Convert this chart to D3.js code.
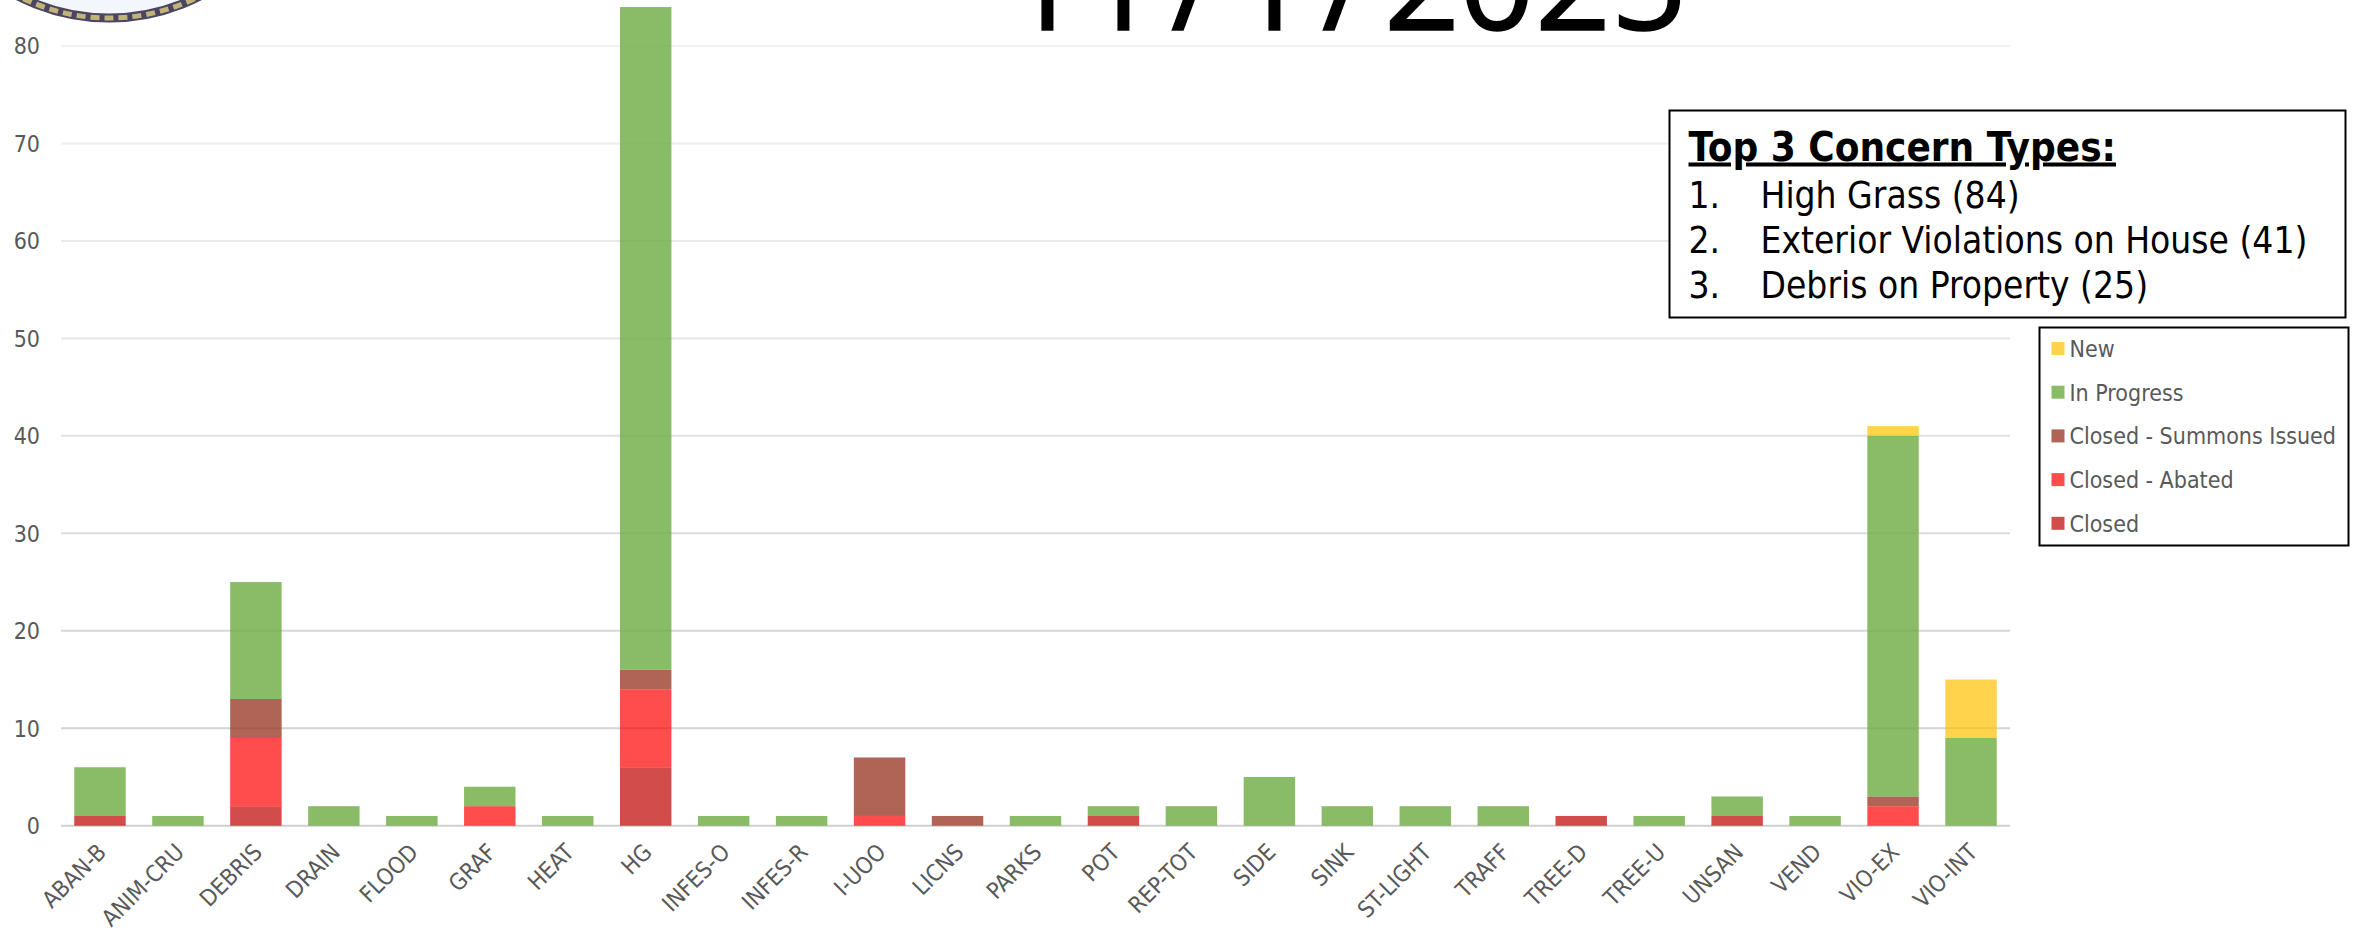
<!DOCTYPE html>
<html>
<head>
<meta charset="utf-8">
<script src="https://cdn.jsdelivr.net/npm/d3@7"></script>
<style>
  html, body { margin: 0; padding: 0; background: #fff; }
  svg { display: block; }
  text { font-family: "DejaVu Sans Condensed", "DejaVu Sans", sans-serif; }
</style>
</head>
<body>
<svg id="chart" width="2359" height="933"></svg>
<script>
const categories = ['ABAN-B', 'ANIM-CRU', 'DEBRIS', 'DRAIN', 'FLOOD', 'GRAF', 'HEAT', 'HG', 'INFES-O', 'INFES-R', 'I-UOO', 'LICNS', 'PARKS', 'POT', 'REP-TOT', 'SIDE', 'SINK', 'ST-LIGHT', 'TRAFF', 'TREE-D', 'TREE-U', 'UNSAN', 'VEND', 'VIO-EX', 'VIO-INT'];
const closed = [1, 0, 2, 0, 0, 0, 0, 6, 0, 0, 0, 0, 0, 1, 0, 0, 0, 0, 0, 1, 0, 1, 0, 0, 0];
const abated = [0, 0, 7, 0, 0, 2, 0, 8, 0, 0, 1, 0, 0, 0, 0, 0, 0, 0, 0, 0, 0, 0, 0, 2, 0];
const summons = [0, 0, 4, 0, 0, 0, 0, 2, 0, 0, 6, 1, 0, 0, 0, 0, 0, 0, 0, 0, 0, 0, 0, 1, 0];
const inProgress = [5, 1, 12, 2, 1, 2, 1, 68, 1, 1, 0, 0, 1, 1, 2, 5, 2, 2, 2, 0, 1, 2, 1, 37, 9];
const newCases = [0, 0, 0, 0, 0, 0, 0, 0, 0, 0, 0, 0, 0, 0, 0, 0, 0, 0, 0, 0, 0, 0, 0, 1, 6];
const yTicks = [0, 10, 20, 30, 40, 50, 60, 70, 80];
const seriesNames = ['Closed', 'Closed - Abated', 'Closed - Summons Issued', 'In Progress', 'New'];
const seriesColors = ['#c00000', '#ff0000', '#9b3d2a', '#70ad47', '#ffc000'];
const seriesAlpha = [0.7, 0.7, 0.8, 0.82, 0.7];
const legendOrder = ['New', 'In Progress', 'Closed - Summons Issued', 'Closed - Abated', 'Closed'];
const topTitle = 'Top 3 Concern Types:';
const topNums = ['1.', '2.', '3.'];
const topItems = ['High Grass (84)', 'Exterior Violations on House (41)', 'Debris on Property (25)'];
const dateTitle = '11/1/2025';

const svg = d3.select('#chart');
const left = 61, right = 2010, y0 = 825.7, y80 = 46;

const x = d3.scaleBand().domain(categories).range([left, right]).paddingInner(0.34).paddingOuter(0.17);
const y = d3.scaleLinear().domain([0, 80]).range([y0, y80]);
const color = d3.scaleOrdinal().domain(seriesNames).range(seriesColors);
const alpha = d3.scaleOrdinal().domain(seriesNames).range(seriesAlpha);

const rows = categories.map((c, i) => ({
  cat: c,
  'Closed': closed[i],
  'Closed - Abated': abated[i],
  'Closed - Summons Issued': summons[i],
  'In Progress': inProgress[i],
  'New': newCases[i]
}));
const stacked = d3.stack().keys(seriesNames)(rows);

// grid, gets fainter going up
const yAxis = d3.axisLeft(y).tickValues(yTicks).tickSize(0);
const gy = svg.append('g').attr('transform', `translate(${left},0)`).call(yAxis);
gy.select('.domain').remove();
gy.selectAll('text').attr('fill', '#595959').style('font-size', '23px').attr('dy', '0.34em').attr('x', -21);
const shade = d3.scaleLinear().domain([0, 80]).range(['#cfcfcf', '#f2f2f2']);
svg.append('g')
  .selectAll('line')
  .data(yTicks)
  .enter()
  .append('line')
  .attr('x1', left)
  .attr('x2', right)
  .attr('y1', d => y(d))
  .attr('y2', d => y(d))
  .attr('stroke', d => shade(d))
  .attr('stroke-width', 2);

svg.append('g')
  .selectAll('g')
  .data(stacked)
  .enter()
  .append('g')
  .attr('fill', d => color(d.key))
  .attr('fill-opacity', d => alpha(d.key))
  .selectAll('rect')
  .data(d => d)
  .enter()
  .append('rect')
  .attr('x', d => x(d.data.cat))
  .attr('width', x.bandwidth())
  .attr('y', d => y(d[1]))
  .attr('height', d => y(d[0]) - y(d[1]));

// x labels
const xAxis = d3.axisBottom(x).tickSize(0);
const gx = svg.append('g').attr('transform', `translate(0,${y0})`).call(xAxis);
gx.select('.domain').remove();
gx.selectAll('text')
  .attr('fill', '#595959')
  .style('font-size', '23px')
  .attr('text-anchor', 'end')
  .attr('y', 0)
  .attr('dy', 0)
  .attr('transform', `translate(${x.bandwidth() / 2 - 28},18) rotate(-45) translate(0,14)`);

// date title, runs off the top of the page. glyphs placed one by one, the gaps are uneven
const dateX = [1006, 1082, 1171, 1233, 1322, 1384, 1459, 1535, 1611];
svg.append('text')
  .attr('x', dateX.join(' '))
  .attr('y', 30)
  .style('font-family', '"Open Sans", sans-serif')
  .attr('font-size', 133)
  .attr('fill', '#000')
  .attr('stroke', '#000')
  .attr('stroke-width', 1.5)
  .text(dateTitle);

// seal, mostly cut off
const seal = svg.append('g');
seal.append('circle').attr('cx', 109).attr('cy', -181).attr('r', 199).attr('fill', '#f3f6fc').attr('stroke', '#4a4560').attr('stroke-width', 9);
seal.append('circle').attr('cx', 109).attr('cy', -181).attr('r', 199).attr('fill', 'none').attr('stroke', '#c2b478').attr('stroke-width', 5).attr('stroke-dasharray', '9 5');

// top 3 box
const box = svg.append('g').attr('transform', 'translate(1669.5,110.5)');
box.append('rect').attr('width', 676).attr('height', 207).attr('fill', '#fff').attr('stroke', '#000').attr('stroke-width', 2);
box.append('text').attr('x', 19).attr('y', 50).attr('font-size', 40).attr('font-weight', 'bold').attr('text-decoration', 'underline').attr('fill', '#000').text(topTitle);
box.selectAll('.num').data(topNums).enter().append('text').attr('class', 'num')
  .attr('x', 19).attr('y', (d, i) => 97 + i * 45).attr('font-size', 36.8).attr('fill', '#000').text(d => d);
box.selectAll('.item').data(topItems).enter().append('text').attr('class', 'item')
  .attr('x', 91).attr('y', (d, i) => 97 + i * 45).attr('font-size', 36.8).attr('fill', '#000').text(d => d);

// legend
const lg = svg.append('g').attr('transform', 'translate(2039.5,327.5)');
lg.append('rect').attr('width', 309).attr('height', 218).attr('fill', '#fff').attr('stroke', '#000').attr('stroke-width', 2);
const li = lg.selectAll('.li').data(legendOrder).enter().append('g').attr('class', 'li')
  .attr('transform', (d, i) => `translate(12,${14.5 + i * 43.7})`);
li.append('rect').attr('width', 13).attr('height', 13).attr('fill', d => color(d)).attr('fill-opacity', d => alpha(d));
li.append('text').attr('x', 18).attr('y', 15).attr('font-size', 23).attr('fill', '#595959').text(d => d);
</script>
</body>
</html>
